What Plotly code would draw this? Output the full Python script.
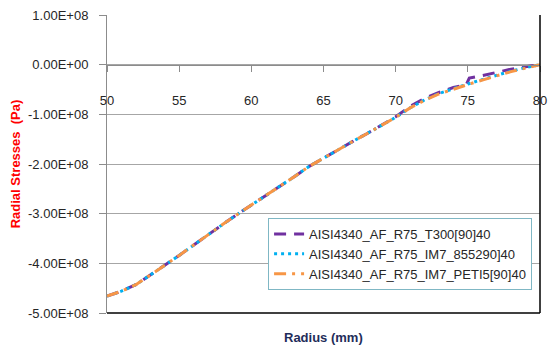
import plotly.graph_objects as go

# Data (stress in units of 1e8 Pa, radius in mm)
radius_common = [50, 51, 52, 53, 54, 55, 56, 57, 58, 59, 60, 61, 62, 63, 64, 65,
                 66, 67, 68, 69, 70, 71, 72, 73, 74, 75, 76, 77, 78, 79, 80]
radius_t300 = [50, 51, 52, 53, 54, 55, 56, 57, 58, 59, 60, 61, 62, 63, 64, 65,
               66, 67, 68, 69, 70, 71, 72, 73, 74, 74.9, 75.1, 76, 77, 78, 79, 80]
stress_t300 = [-4.66, -4.56, -4.43, -4.24, -4.04, -3.84, -3.63, -3.43, -3.22, -3.02,
               -2.83, -2.64, -2.45, -2.25, -2.05, -1.88, -1.72, -1.55, -1.39, -1.22,
               -1.05, -0.84, -0.68, -0.56, -0.46, -0.40, -0.27, -0.22, -0.15, -0.09, -0.04, 0.0]
stress_im7_855 = [-4.66, -4.56, -4.43, -4.24, -4.04, -3.84, -3.63, -3.43, -3.22, -3.02,
                  -2.83, -2.64, -2.45, -2.25, -2.05, -1.88, -1.72, -1.55, -1.39, -1.22,
                  -1.06, -0.87, -0.71, -0.58, -0.48, -0.39, -0.30, -0.21, -0.13, -0.06, 0.0]
stress_im7_peti5 = [-4.66, -4.56, -4.43, -4.24, -4.04, -3.84, -3.63, -3.43, -3.22, -3.02,
                    -2.83, -2.64, -2.45, -2.25, -2.05, -1.88, -1.72, -1.55, -1.39, -1.22,
                    -1.06, -0.87, -0.72, -0.59, -0.49, -0.40, -0.31, -0.22, -0.14, -0.07, 0.0]

names = ["AISI4340_AF_R75_T300[90]40",
         "AISI4340_AF_R75_IM7_855290]40",
         "AISI4340_AF_R75_IM7_PETI5[90]40"]

y_ticks = [1e8, 0, -1e8, -2e8, -3e8, -4e8, -5e8]
y_tick_labels = ["1.00E+08", "0.00E+00", "-1.00E+08", "-2.00E+08",
                 "-3.00E+08", "-4.00E+08", "-5.00E+08"]
x_ticks = [50, 55, 60, 65, 70, 75, 80]

FONT = "Liberation Sans, Arial, sans-serif"

fig = go.Figure()
fig.add_trace(go.Scatter(x=radius_t300, y=[v * 1e8 for v in stress_t300],
                         mode="lines", name=names[0],
                         line=dict(color="#7030A0", width=3, dash="12px,8px")))
fig.add_trace(go.Scatter(x=radius_common, y=[v * 1e8 for v in stress_im7_855],
                         mode="lines", name=names[1],
                         line=dict(color="#00B0F0", width=3, dash="3px,4px")))
fig.add_trace(go.Scatter(x=radius_common, y=[v * 1e8 for v in stress_im7_peti5],
                         mode="lines", name=names[2],
                         line=dict(color="#F79646", width=3, dash="12px,6px,3px,6px")))

fig.update_layout(
    width=550, height=347,
    margin=dict(l=107, r=10, t=15, b=34, autoexpand=False),
    paper_bgcolor="white", plot_bgcolor="white",
    font=dict(family=FONT, size=13, color="#262626"),
    xaxis=dict(range=[50, 80], tickvals=x_ticks, anchor="free", position=5/6,
               automargin=False,
               showgrid=False, zeroline=False, showline=True, linecolor="#8C8C8C",
               linewidth=1, ticks="outside", ticklen=6, tickcolor="#8C8C8C",
               ticklabelstandoff=18),
    yaxis=dict(range=[-5e8, 1e8], tickvals=y_ticks, ticktext=y_tick_labels,
               automargin=False,
               showgrid=True, gridcolor="#A6A6A6", gridwidth=1, zeroline=False,
               showline=True, linecolor="#8C8C8C", linewidth=1,
               ticks="outside", ticklen=7, tickcolor="#8C8C8C",
               ticklabelstandoff=8,
               title=dict(text="<b>Radial Stresses  (Pa)</b>", font=dict(size=13, color="#FF0000"),
                          standoff=4)),
    legend=dict(x=0.372, y=0.319, xanchor="left", yanchor="top",
                bgcolor="white", bordercolor="#7FB7C4", borderwidth=1,
                font=dict(size=13, color="#262626")),
    annotations=[
        dict(text="<b>Radius (mm)</b>", xref="paper", yref="paper", x=0.5, y=-0.083,
             xanchor="center", yanchor="middle", showarrow=False,
             font=dict(size=13, color="#1F2D5A")),
    ],
    shapes=[
        dict(type="line", xref="paper", yref="paper", x0=0, x1=1, y0=0, y1=0,
             line=dict(color="black", width=1.5)),
        dict(type="line", xref="paper", yref="paper", x0=1, x1=1, y0=0, y1=1,
             line=dict(color="black", width=1.5)),
    ],
)

fig.write_html("out.html")
